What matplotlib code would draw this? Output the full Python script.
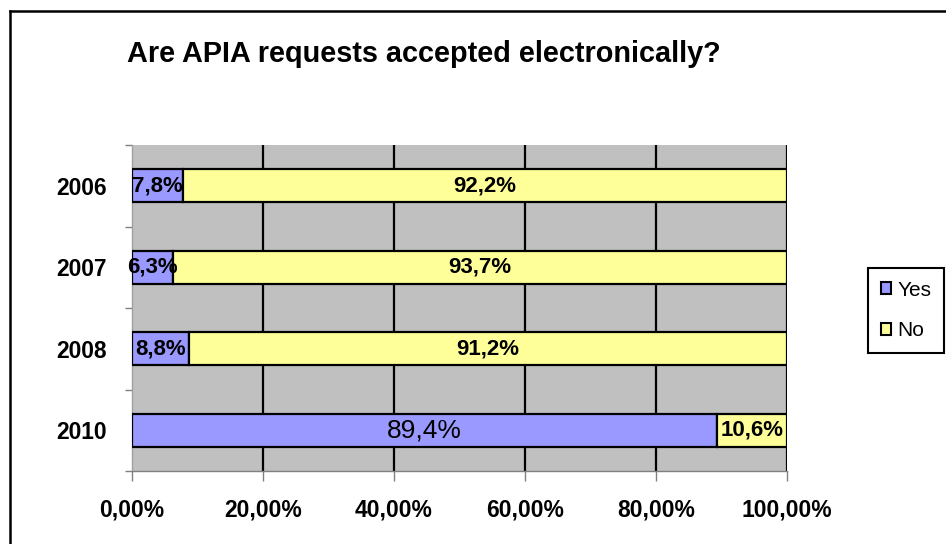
import matplotlib
matplotlib.use("Agg")
import matplotlib.pyplot as plt
from matplotlib.lines import Line2D
import numpy as np

plt.rcParams['font.family'] = ['Liberation Sans', 'DejaVu Sans']

categories = ["2006", "2007", "2008", "2010"]
yes_vals = [7.8, 6.3, 8.8, 89.4]
no_vals = [92.2, 93.7, 91.2, 10.6]
yes_labels = ["7,8%", "6,3%", "8,8%", "89,4%"]
no_labels = ["92,2%", "93,7%", "91,2%", "10,6%"]
x_ticks = [0, 20, 40, 60, 80, 100]
x_ticklabels = ["0,00%", "20,00%", "40,00%", "60,00%", "80,00%", "100,00%"]
title = "Are APIA requests accepted electronically?"

W, H = 946, 544
fig = plt.figure(figsize=(W / 100, H / 100), dpi=100)
fig.patch.set_facecolor("white")

left, right, top, bottom = 131.7, 786.7, 145, 471
ax = fig.add_axes([left / W, 1 - bottom / H, (right - left) / W, (bottom - top) / H])
ax.set_facecolor("#C0C0C0")

y = np.arange(len(categories))
blue = "#9999FF"
yellow = "#FFFF99"
bh = 0.40
ax.barh(y, yes_vals, height=bh, color=blue, edgecolor="black", linewidth=1.6, label="Yes", zorder=3)
ax.barh(y, no_vals, left=yes_vals, height=bh, color=yellow, edgecolor="black", linewidth=1.6, label="No", zorder=3)

ax.set_xlim(0, 100)
ax.set_ylim(len(categories) - 0.5, -0.5)

for xv in x_ticks[1:]:
    ax.axvline(xv, color="black", linewidth=1.6, zorder=1)

for i in range(len(categories)):
    if i == 3:
        ax.text(yes_vals[i] / 2, y[i], yes_labels[i], ha="center", va="center",
                fontsize=19, fontweight="normal", zorder=5)
    else:
        ax.text(yes_vals[i] / 2, y[i], yes_labels[i], ha="center", va="center",
                fontsize=16, fontweight="bold", zorder=5)
    ax.text(yes_vals[i] + no_vals[i] / 2, y[i], no_labels[i], ha="center", va="center",
            fontsize=16, fontweight="bold", zorder=5)

ax.set_xticks(x_ticks)
ax.set_xticklabels(x_ticklabels, fontsize=16.5, fontweight="bold")
ax.set_yticks(y)
ax.set_yticklabels(categories, fontsize=16.4, fontweight="bold")
ax.tick_params(axis="y", length=0, pad=17.8)
ax.tick_params(axis="x", length=7, color="#808080", width=1, pad=13)
ax.set_yticks(np.arange(-0.5, len(categories), 1.0), minor=True)
ax.tick_params(axis="y", which="minor", length=5, color="#808080", width=1)

for s in ["top", "right"]:
    ax.spines[s].set_visible(False)
ax.spines["left"].set_color("#A0A0A0")
ax.spines["bottom"].set_color("#808080")
ax.spines["left"].set_linewidth(1)
ax.spines["bottom"].set_linewidth(1)

fig.text(127 / W, 1 - 62 / H, title, ha="left", va="baseline", fontsize=20.8, fontweight="bold")

leg = ax.legend(loc="upper left", bbox_to_anchor=((868 - left) / (right - left), (bottom - 268) / (bottom - top)),
                fontsize=15, frameon=True, fancybox=False, edgecolor="black", framealpha=1,
                handlelength=0.5, handleheight=0.5, handletextpad=0.3, borderpad=0.6,
                labelspacing=1.05, borderaxespad=0)
leg.get_frame().set_linewidth(1.5)
for p in leg.get_patches():
    p.set_linewidth(1.5)

fig.add_artist(Line2D([10 / W, 10 / W], [0, 1 - 11 / H], color="black", linewidth=1.8, transform=fig.transFigure))
fig.add_artist(Line2D([10 / W, 1], [1 - 11 / H, 1 - 11 / H], color="black", linewidth=1.8, transform=fig.transFigure))

fig.savefig("out.png", dpi=100)
